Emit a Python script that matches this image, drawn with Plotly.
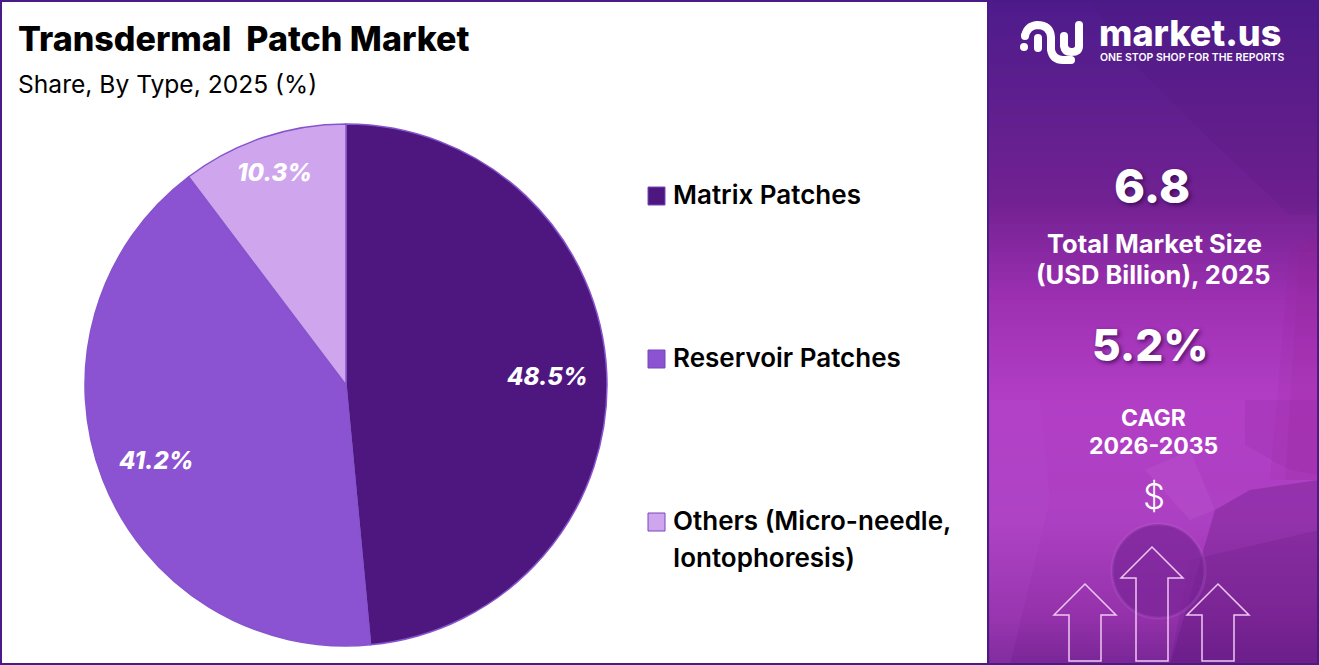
import plotly.graph_objects as go

# data
tipos = ["Matrix Patches", "Reservoir Patches", "Others (Micro-needle, Iontophoresis)"]
valores = [48.5, 41.2, 10.3]
cores = ["#4E1780", "#8B52D1", "#CFA6EE"]
legenda_linhas = [["Matrix Patches"], ["Reservoir Patches"], ["Others (Micro-needle,", "Iontophoresis)"]]

titulo = "Transdermal  Patch Market"
subtitulo = "Share, By Type, 2025 (%)"
painel_textos = ["6.8", "Total Market Size", "(USD Billion), 2025", "5.2%", "CAGR", "2026-2035", "$"]

W, H = 1319, 665
FONTE = "Inter"

# helpers: pixel position -> paper
def px(x):
    return x / W

def py(y):
    return 1 - y / H

def caminho(pontos):
    return "M " + " L ".join(f"{px(x):.5f},{py(y):.5f}" for x, y in pontos) + " Z"

def retangulo(x0, y0, x1, y1, cor, linha=None, largura=0):
    return dict(type="rect", xref="paper", yref="paper", x0=px(x0), x1=px(x1), y0=py(y0), y1=py(y1),
                fillcolor=cor, line=dict(color=linha, width=largura) if linha else dict(width=0), layer="below")

def texto(x, y, s, tam, cor="black", peso=400, anchor="left", italico=False, sombra=None):
    return dict(xref="paper", yref="paper", x=px(x), y=py(y), text=s, showarrow=False, xanchor=anchor, yanchor="middle",
                font=dict(family=FONTE, size=tam, color=cor, weight=peso, style="italic" if italico else "normal",
                          shadow=sombra or "none"))

def bolinha(cx, cy, r, cor="white"):
    return dict(type="circle", xref="paper", yref="paper", x0=px(cx - r), x1=px(cx + r), y0=py(cy + r), y1=py(cy - r),
                fillcolor=cor, line=dict(width=0), layer="above")

fig = go.Figure()

fig.add_trace(go.Pie(
    labels=tipos,
    values=valores,
    sort=False,
    direction="clockwise",
    rotation=0,
    marker=dict(colors=cores, line=dict(color="#8655CC", width=1.5)),
    textinfo="none",
    showlegend=False,
    domain=dict(x=[px(85), px(607)], y=[py(646), py(124)]),
))

shapes = []

# painel da direita, gradiente em faixas
paradas = [(0, (78, 27, 140)), (100, (95, 31, 142)), (200, (114, 33, 146)), (300, (158, 48, 178)),
           (400, (178, 62, 198)), (520, (172, 64, 194)), (610, (150, 50, 172)), (665, (120, 38, 150))]

def cor_faixa(y):
    for (a, ca), (b, cb) in zip(paradas, paradas[1:]):
        if a <= y <= b:
            t = (y - a) / (b - a)
            return "rgb(%d,%d,%d)" % tuple(round(u + (v - u) * t) for u, v in zip(ca, cb))
    return "rgb(120,38,150)"

for y in range(0, H, 4):
    shapes.append(retangulo(988, y, W, y + 4, cor_faixa(y)))

# manchas do fundo, bem suaves
manchas = [
    ([(1090, 0), (1319, 0), (1319, 215), (1290, 215), (1200, 130), (1130, 60)], "rgba(70,15,110,0.10)"),
    ([(1290, 250), (1319, 230), (1319, 480), (1270, 480)], "rgba(150,30,140,0.10)"),
    ([(1300, 250), (1319, 230), (1319, 480), (1285, 480)], "rgba(150,30,140,0.12)"),
    ([(1215, 510), (1250, 490), (1319, 480), (1319, 665), (1170, 665)], "rgba(90,20,120,0.30)"),
    ([(1190, 560), (1319, 530), (1319, 665), (1170, 665)], "rgba(90,20,120,0.18)"),
    ([(990, 400), (1040, 400), (1050, 500), (1010, 665), (990, 665)], "rgba(190,90,215,0.12)"),
    ([(1245, 400), (1319, 400), (1319, 475), (1290, 470), (1245, 445)], "rgba(120,20,130,0.10)"),
    ([(1145, 470), (1190, 450), (1215, 510), (1190, 520)], "rgba(210,120,225,0.14)"),
]
for pts, cor in manchas:
    shapes.append(dict(type="path", xref="paper", yref="paper", path=caminho(pts), fillcolor=cor, line=dict(width=0), layer="below"))

# xicara
shapes.append(dict(type="circle", xref="paper", yref="paper", x0=px(1112), x1=px(1205), y0=py(618), y1=py(524),
                   fillcolor="rgba(120,35,150,0.70)", line=dict(color="rgba(205,120,220,0.18)", width=3), layer="below"))

# molduras
shapes.append(retangulo(1, 1, 988, 664, "rgba(0,0,0,0)", "#4A1A86", 2))
shapes.append(retangulo(988, 1, 1318, 664, "rgba(0,0,0,0)", "#4A1A86", 2))

# setas
setas = [(1085, 584, 661), (1152, 547, 661), (1218, 584, 661)]
for cx, topo, base in setas:
    pts = [(cx, topo), (cx + 31, topo + 31), (cx + 16, topo + 31), (cx + 16, base), (cx - 16, base), (cx - 16, topo + 31), (cx - 31, topo + 31)]
    shapes.append(dict(type="path", xref="paper", yref="paper", path=caminho(pts), fillcolor="rgba(0,0,0,0)",
                       line=dict(color="#F0C6F5", width=1.5), layer="above"))

# logo, tracos com curvas
def P(x, y):
    return f"{px(x):.5f},{py(y):.5f}"

tracos = [
    f"M {P(1025, 36)} Q {P(1027, 26)} {P(1037, 25)} Q {P(1050, 25)} {P(1051, 37)} L {P(1051, 50)} Q {P(1053, 60)} {P(1063, 60)} L {P(1071, 60)}",
    f"M {P(1038, 38)} L {P(1038, 48)}",
    f"M {P(1064, 36)} L {P(1064, 46)} Q {P(1065, 52)} {P(1071, 52)} Q {P(1079, 52)} {P(1079, 46)} L {P(1079, 25)}",
]
for d in tracos:
    shapes.append(dict(type="path", xref="paper", yref="paper", path=d, line=dict(color="white", width=8), layer="above"))
for cx, cy in [(1025, 36), (1038, 38), (1038, 48), (1071, 60), (1064, 36), (1079, 25)]:
    shapes.append(bolinha(cx, cy, 4))
shapes.append(bolinha(1024, 47, 4))

# legenda
legenda_y = [196, 359, 522]
for i, cor in enumerate(cores):
    y = legenda_y[i]
    shapes.append(retangulo(648, y - 9, 665, y + 9, cor, "#7A45C0", 1))

annotations = [
    texto(16, 38, titulo, 34, peso=800),
    texto(16, 84, subtitulo, 24.6),
]
for i, linhas in enumerate(legenda_linhas):
    for j, linha in enumerate(linhas):
        annotations.append(texto(671, legenda_y[i] - 2 + j * 37, linha, 26, peso=600))

# rotulos da pizza
rotulo_pos = [(547, 376), (156, 461), (274, 173)]
for (x, y), v in zip(rotulo_pos, valores):
    annotations.append(texto(x, y, f"{v}%", 24, "white", 800, "center", True))

CX = 1153
sombra = "2px 2px 4px rgba(40,0,70,0.7)"
annotations += [
    texto(CX - 1, 185, painel_textos[0], 47, "white", 800, "center", sombra=sombra),
    texto(CX + 1, 244, painel_textos[1], 25.5, "white", 700, "center"),
    texto(CX, 274, painel_textos[2], 25.5, "white", 700, "center"),
    texto(CX - 3, 345, painel_textos[3], 44, "white", 800, "center", sombra=sombra),
    texto(CX, 418, painel_textos[4], 23, "white", 700, "center"),
    texto(CX, 446, painel_textos[5], 23, "white", 700, "center"),
    texto(CX + 1, 496, painel_textos[6], 35, "white", 300, "center"),
    texto(1097, 33, "market.us", 36, "white", 800),
    texto(1098, 57, "ONE STOP SHOP FOR THE REPORTS", 10.5, "white", 600),
]

fig.update_layout(
    width=W, height=H,
    margin=dict(l=0, r=0, t=0, b=0),
    paper_bgcolor="white",
    plot_bgcolor="white",
    shapes=shapes,
    annotations=annotations,
)

fig.write_html("out.html", config=dict(displayModeBar=False), post_script="document.body.style.margin='0';")
